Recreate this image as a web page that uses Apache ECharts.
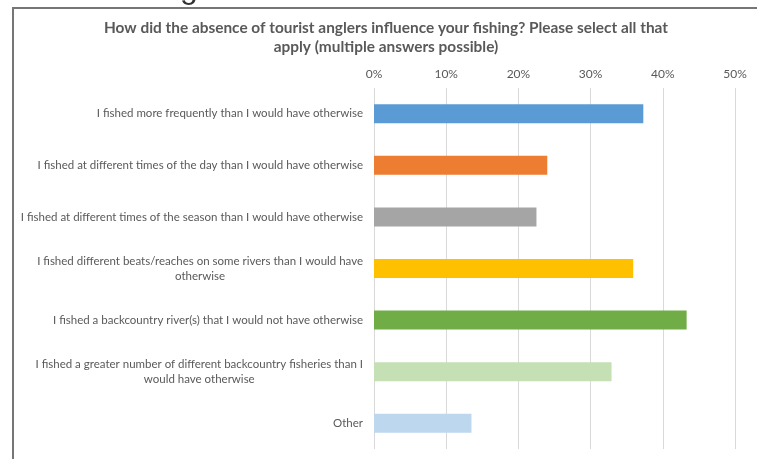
<!DOCTYPE html>
<html>
<head>
<meta charset="utf-8">
<script src="https://cdn.jsdelivr.net/npm/echarts@6/dist/echarts.min.js"></script>
<style>html,body{margin:0;padding:0;background:#fff;}#c{width:757px;height:459px;}</style>
</head>
<body>
<div id="c"></div>
<script>
const categories = [
  "I fished more frequently than I would have otherwise",
  "I fished at different times of the day than I would have otherwise",
  "I fished at different times of the season than I would have otherwise",
  "I fished different beats/reaches on some rivers than I would have\notherwise",
  "I fished a backcountry river(s) that I would not have otherwise",
  "I fished a greater number of different backcountry fisheries than I\nwould have otherwise",
  "Other"
];
const values = [0.373, 0.240, 0.225, 0.359, 0.433, 0.329, 0.135];
const barColors = ["#5B9BD5", "#ED7D31", "#A5A5A5", "#FFC000", "#70AD47", "#C5E0B4", "#BDD7EE"];
const tickLabels = ["0%", "10%", "20%", "30%", "40%", "50%"];
const titleText = "How did the absence of tourist anglers influence your fishing? Please select all that\napply (multiple answers possible)";

const font = "Lato, sans-serif";
const chart = echarts.init(document.getElementById('c'));
chart.setOption({
  animation: false,
  title: {
    text: titleText,
    left: 381, top: 14, textAlign: 'center',
    textStyle: { fontFamily: font, fontSize: 15.4, fontWeight: 'bold', color: '#595959', lineHeight: 19 }
  },
  graphic: [
    { type: 'rect', shape: { x: 13, y: 8, width: 760, height: 470 }, style: { fill: null, stroke: '#767676', lineWidth: 2 } },
    { type: 'text', left: 180, top: -27, style: { text: 'g', font: '32px Liberation Sans', fill: '#333' } }
  ],
  grid: { left: 374, right: 22, top: 88, bottom: 10, containLabel: false },
  xAxis: {
    type: 'value', position: 'top', min: 0, max: 0.5, interval: 0.1,
    axisLine: { show: false }, axisTick: { show: false },
    axisLabel: { color: '#595959', fontFamily: font, fontSize: 12, margin: 8,
      formatter: v => tickLabels[Math.round(v * 10)] },
    splitLine: { lineStyle: { color: '#D9D9D9', width: 1 } }
  },
  yAxis: {
    type: 'category', data: categories, inverse: true,
    axisLine: { show: false }, axisTick: { show: false },
    axisLabel: { color: '#595959', fontFamily: font, fontSize: 11.5, margin: 11, align: 'right', lineHeight: 15,
      formatter: s => s.split('\n').map(l => '{c|' + l + '}').join('\n'),
      rich: { c: { align: 'center', fontFamily: font, fontSize: 11.5, color: '#595959', lineHeight: 15 } } },
  },
  series: [{
    type: 'bar', data: values.map((v, i) => ({ value: v, itemStyle: { color: barColors[i] } })),
    barWidth: 19
  }]
});
</script>
</body>
</html>
